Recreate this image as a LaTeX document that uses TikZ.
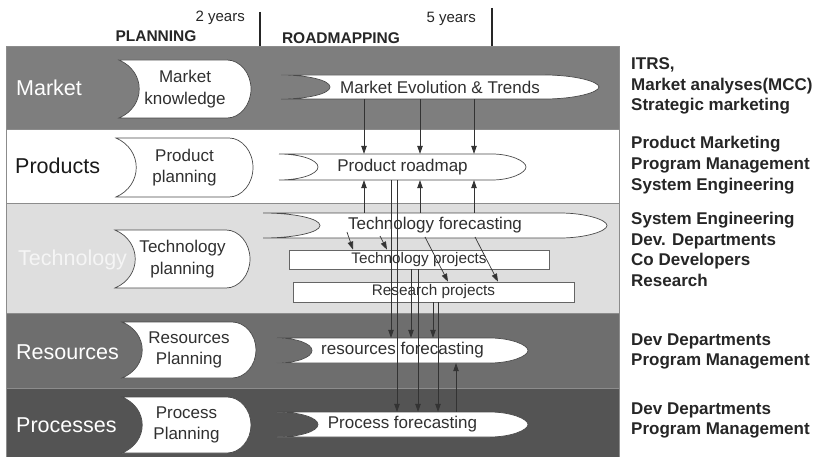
\documentclass[tikz,border=0pt]{standalone}
\usepackage{fontspec}
\setmainfont{Liberation Sans}
\usetikzlibrary{arrows.meta}

\definecolor{mktgray}{HTML}{7E7E7E}
\definecolor{techgray}{HTML}{DEDEDE}
\definecolor{resgray}{HTML}{6E6E6E}
\definecolor{procgray}{HTML}{545454}
\definecolor{edgegray}{HTML}{4A4A4A}
\definecolor{inkgray}{HTML}{303030}

% planning box: hollow left side, round right end
\newcommand\planbox[6]{% name, x left, x right, y top, y bottom, text
  \pgfmathsetmacro\pbmid{(#4+#5)/2}
  \pgfmathsetmacro\pbhalf{(#5-#4)/2}
  \draw[shapeline] (#2,#4) .. controls ({#2+27},{#4+0.2*(#5-#4)}) and ({#2+27},{#5-0.2*(#5-#4)}) .. (#2,#5)
    -- ({#3-24},#5) .. controls ({#3-11},#5) and (#3,{\pbmid+0.55*\pbhalf}) .. (#3,\pbmid)
    .. controls (#3,{\pbmid-0.55*\pbhalf}) and ({#3-11},#4) .. ({#3-24},#4) -- cycle;
  \node[plantext, minimum width={#3-#2}, minimum height={#5-#4}] (#1) at ({(#2+#3)/2},\pbmid) {#6};}

% roadmap bar: notch on the left, long tip on the right
\newcommand\roadmap[8]{% name, x left, x notch, x tip start, x tip, y top, y bottom, text
  \pgfmathsetmacro\rmmid{(#6+#7)/2}
  \pgfmathsetmacro\rmhalf{(#7-#6)/2}
  \draw[shapeline] (#2,#6) -- (#4,#6)
    .. controls ({#4+0.55*(#5-#4)},#6) and (#5,{\rmmid-0.45*\rmhalf}) .. (#5,\rmmid)
    .. controls (#5,{\rmmid+0.45*\rmhalf}) and ({#4+0.55*(#5-#4)},#7) .. (#4,#7)
    -- (#2,#7) .. controls ({#2+0.55*(#3-#2)},#7) and (#3,{\rmmid+0.55*\rmhalf}) .. (#3,\rmmid)
    .. controls (#3,{\rmmid-0.55*\rmhalf}) and ({#2+0.55*(#3-#2)},#6) .. (#2,#6) -- cycle;
  \node[maptext, minimum width={#5-#2}, minimum height={#7-#6}] (#1) at ({(#2+#5)/2},\rmmid) {#8};}

\begin{document}
\begin{tikzpicture}[x=1pt,y=-1pt,
  band/.style={draw=black!45, line width=0.6pt, anchor=north west, inner sep=0pt, outer sep=0pt, minimum width=613},
  bandlabel/.style={anchor=west, inner sep=0pt, font=\fontsize{21.5}{24}\selectfont},
  shapeline/.style={draw=edgegray, fill=white, line width=0.7pt},
  plantext/.style={inner sep=0pt, align=center, text=inkgray, font=\fontsize{17}{21.5}\selectfont},
  maptext/.style={inner sep=0pt, text=inkgray, font=\fontsize{17}{20}\selectfont},
  projbox/.style={draw=edgegray!85, fill=white, line width=0.7pt, inner sep=0pt, text=inkgray, font=\fontsize{15.3}{18}\selectfont},
  sidenote/.style={anchor=west, align=left, inner sep=0pt, text=black!85, font=\bfseries\fontsize{17}{20.7}\selectfont},
  header/.style={inner sep=0pt, text=black!85, font=\fontsize{15}{18}\selectfont},
  tick/.style={draw=black!85, line width=1.8pt},
  arr/.style={draw=black!80, line width=0.7pt, -{Triangle[length=8pt,width=5.5pt]}}]
\useasboundingbox[fill=white] (0,0) rectangle (821,457);

% horizontal bands
\node[band, fill=mktgray, minimum height=83] (mktband) at (6,46) {};
\node[band, fill=white, minimum height=74] (prdband) at (6,129) {};
\node[band, fill=techgray, minimum height=110] (tecband) at (6,203) {};
\node[band, fill=resgray, minimum height=75] (resband) at (6,313) {};
\node[band, fill=procgray, minimum height=72] (prcband) at (6,388) {};

\node[bandlabel, text=white] (mktlbl) at ([xshift=10]mktband.west) {Market};
\node[bandlabel, text=black!90] (prdlbl) at ([xshift=9]prdband.west) {Products};
\node[bandlabel, text=black!4] (teclbl) at ([xshift=12,yshift=-2]tecband.west) {Technology};
\node[bandlabel, text=white] (reslbl) at ([xshift=10,yshift=-1.5]resband.west) {Resources};
\node[bandlabel, text=white] (prclbl) at ([xshift=10,yshift=-1]prcband.west) {Processes};

% time scale on top
\node[header, anchor=east] (twoyr) at (245,18) {2 years};
\node[header, anchor=east] (fiveyr) at (476,19) {5 years};
\node[header, font=\bfseries\fontsize{15.5}{18}\selectfont] (plan) at (156,36) {PLANNING};
\node[header, font=\bfseries\fontsize{15.5}{18}\selectfont] (road) at (341,38) {ROADMAPPING};
\coordinate (tick2) at (260,12);
\coordinate (tick5) at (492,8);
\draw[tick] (tick2) -- (tick2 |- mktband.north);
\draw[tick] (tick5) -- (tick5 |- mktband.north);

% planning column
\planbox{mkplan}{119}{251}{60}{118}{Market\\knowledge}
\planbox{prplan}{116}{253}{138}{197}{Product\\planning}
\planbox{tcplan}{115}{250}{230}{288}{Technology\\planning}
\planbox{rsplan}{122}{256}{322}{378}{Resources\\Planning}
\planbox{pcplan}{122}{251}{397}{453}{Process\\Planning}

% roadmapping column
\roadmap{evo}{281}{330}{545}{599}{75}{99}{Market Evolution \& Trends}
\roadmap{prodmap}{279}{318}{492}{526}{154}{180}{Product roadmap}
\roadmap{techfc}{263}{320}{560}{607}{213}{238}{Technology forecasting}
\roadmap{resfc}{277}{312}{490}{528}{338}{363}{resources forecasting}
\roadmap{procfc}{277}{318}{490}{528}{412}{437}{Process forecasting}
\node[projbox, minimum width=260, minimum height=19] (techproj) at (419,259.5) {Technology projects};
\node[projbox, minimum width=281, minimum height=20] (resproj) at (433.5,292) {Research projects};

% arrow columns
\foreach \n/\x in {m1/364, m2/420, m3/474, p1/391, p2/397, t1/411, t2/418, r1/433, r2/438, u1/456}
  \coordinate (\n) at (\x,0);
\foreach \n/\x/\y in {f1/347/232, f2/380/236, f3/425/237, f4/475/237, e1/353/0, e2/387/0, e3/448/0, e4/498/0}
  \coordinate (\n) at (\x,\y);

\foreach \c in {m1,m2,m3} {
  \draw[arr] (evo.south -| \c) -- (prodmap.north -| \c);
  \draw[arr] (techfc.north -| \c) -- (prodmap.south -| \c);
}
\draw[arr] (f1) -- (techproj.north -| e1);
\draw[arr] (f2) -- (techproj.north -| e2);
\draw[arr] (f3) -- (resproj.north -| e3);
\draw[arr] (f4) -- (resproj.north -| e4);

\draw[arr] (prodmap.south -| p1) -- (resfc.north -| p1);
\draw[arr] (prodmap.south -| p2) -- (procfc.north -| p2);
\draw[arr] (techproj.south -| t1) -- (resfc.north -| t1);
\draw[arr] (techproj.south -| t2) -- (procfc.north -| t2);
\draw[arr] (resproj.south -| r1) -- (resfc.north -| r1);
\draw[arr] (resproj.south -| r2) -- (procfc.north -| r2);
\draw[arr] (procfc.north -| u1) -- (resfc.south -| u1);

% who is involved
\node[sidenote] (mktnote) at (631,86) {ITRS,\\Market analyses(MCC)\\Strategic marketing};
\node[sidenote] (prdnote) at (631,165) {Product Marketing\\Program Management\\System Engineering};
\node[sidenote] (tecnote) at (631,249.5) {System Engineering\\Dev. Departments\\Co Developers\\Research};
\node[sidenote] (resnote) at (631,351.5) {Dev Departments\\Program Management};
\node[sidenote] (prcnote) at (631,420.5) {Dev Departments\\Program Management};
\end{tikzpicture}
\end{document}
